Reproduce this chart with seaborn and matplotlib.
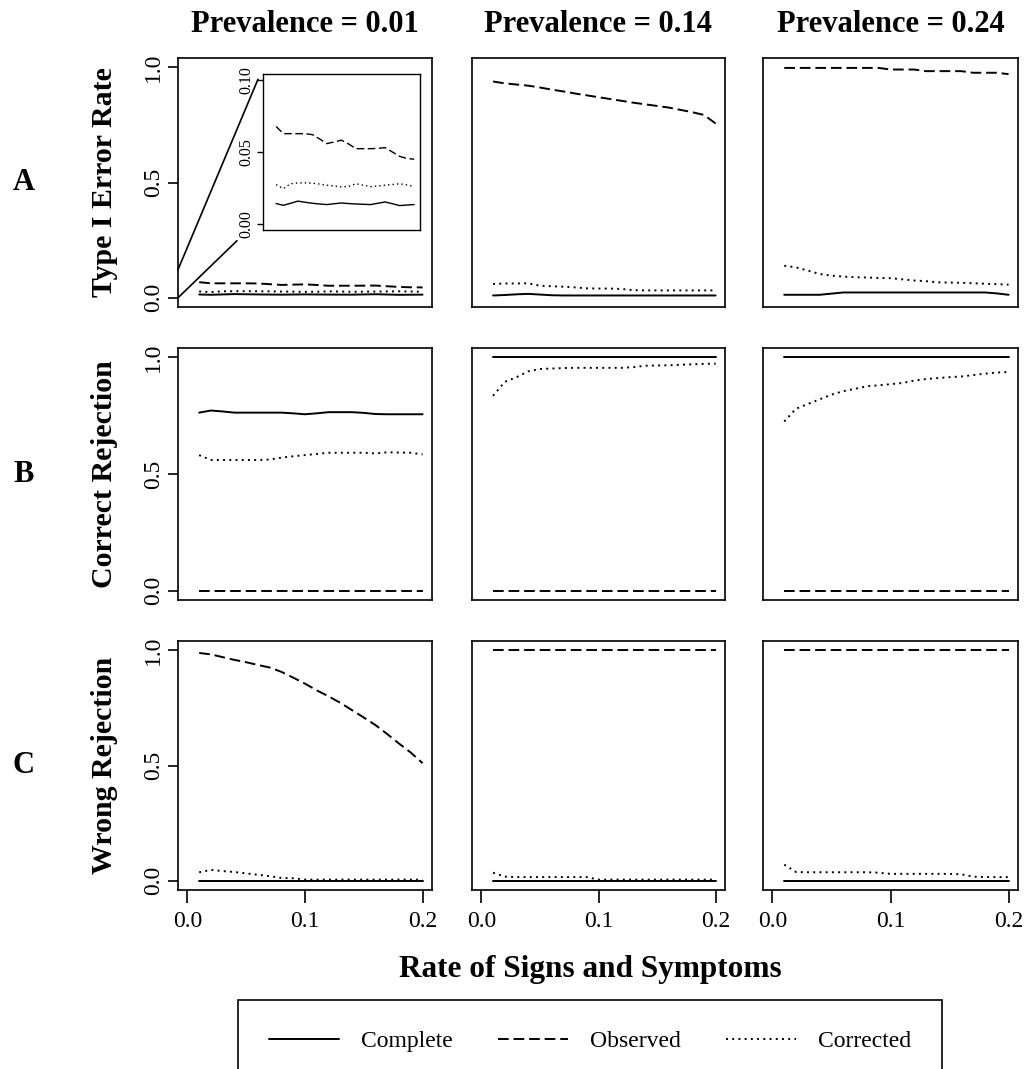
import matplotlib
matplotlib.use("Agg")
import matplotlib.pyplot as plt
import seaborn as sns
import pandas as pd
from matplotlib.patches import ConnectionPatch
from matplotlib.lines import Line2D

# ---------------- data ----------------
rate = [0.01, 0.02, 0.03, 0.04, 0.05, 0.06, 0.07, 0.08, 0.09, 0.10,
        0.11, 0.12, 0.13, 0.14, 0.15, 0.16, 0.17, 0.18, 0.19, 0.20]

prevalences = ["0.01", "0.14", "0.24"]
methods = ["Complete", "Observed", "Corrected"]
metrics = ["Type I Error Rate", "Correct Rejection", "Wrong Rejection"]
row_letters = ["A", "B", "C"]

# Type I error rate
type1_p01_complete = [0.0143, 0.0131, 0.0145, 0.0160, 0.0152, 0.0145, 0.0140, 0.0136, 0.0142, 0.0147,
                      0.0143, 0.0140, 0.0138, 0.0136, 0.0145, 0.0154, 0.0142, 0.0129, 0.0133, 0.0136]
type1_p01_observed = [0.0677, 0.0627, 0.0627, 0.0627, 0.0627, 0.0620, 0.0590, 0.0558, 0.0570, 0.0582,
                      0.0555, 0.0523, 0.0523, 0.0523, 0.0525, 0.0530, 0.0500, 0.0470, 0.0455, 0.0450]
type1_p01_corrected = [0.0274, 0.0247, 0.0280, 0.0286, 0.0286, 0.0284, 0.0278, 0.0270, 0.0265, 0.0258,
                       0.0262, 0.0280, 0.0270, 0.0260, 0.0265, 0.0270, 0.0275, 0.0280, 0.0272, 0.0260]
type1_p14_complete = [0.010, 0.012, 0.015, 0.017, 0.014, 0.011, 0.010, 0.010, 0.010, 0.010,
                      0.010, 0.010, 0.010, 0.010, 0.010, 0.010, 0.010, 0.010, 0.010, 0.010]
type1_p14_observed = [0.938, 0.930, 0.925, 0.920, 0.912, 0.903, 0.895, 0.886, 0.878, 0.870,
                      0.862, 0.854, 0.846, 0.839, 0.832, 0.825, 0.815, 0.805, 0.793, 0.756]
type1_p14_corrected = [0.060, 0.062, 0.062, 0.063, 0.052, 0.050, 0.048, 0.045, 0.041, 0.040,
                       0.040, 0.038, 0.033, 0.032, 0.032, 0.032, 0.032, 0.032, 0.032, 0.032]
type1_p24_complete = [0.013, 0.013, 0.013, 0.013, 0.018, 0.023, 0.023, 0.023, 0.023, 0.023,
                      0.023, 0.023, 0.023, 0.023, 0.023, 0.023, 0.023, 0.023, 0.019, 0.013]
type1_p24_observed = [0.997, 0.997, 0.997, 0.997, 0.997, 0.997, 0.997, 0.997, 0.997, 0.990,
                      0.990, 0.990, 0.983, 0.983, 0.983, 0.983, 0.976, 0.976, 0.976, 0.970]
type1_p24_corrected = [0.139, 0.132, 0.118, 0.103, 0.096, 0.092, 0.089, 0.088, 0.086, 0.085,
                       0.080, 0.075, 0.072, 0.067, 0.066, 0.065, 0.063, 0.061, 0.059, 0.057]

# Correct rejection
correct_p01_complete = [0.763, 0.772, 0.768, 0.763, 0.763, 0.763, 0.763, 0.763, 0.760, 0.756,
                        0.760, 0.765, 0.765, 0.765, 0.762, 0.757, 0.756, 0.756, 0.756, 0.756]
correct_p01_observed = [0.0, 0.0, 0.0, 0.0, 0.0, 0.0, 0.0, 0.0, 0.0, 0.0,
                        0.0, 0.0, 0.0, 0.0, 0.0, 0.0, 0.0, 0.0, 0.0, 0.0]
correct_p01_corrected = [0.581, 0.560, 0.560, 0.560, 0.560, 0.560, 0.562, 0.570, 0.576, 0.581,
                         0.586, 0.591, 0.591, 0.591, 0.591, 0.588, 0.593, 0.592, 0.591, 0.584]
correct_p14_complete = [1.0, 1.0, 1.0, 1.0, 1.0, 1.0, 1.0, 1.0, 1.0, 1.0,
                        1.0, 1.0, 1.0, 1.0, 1.0, 1.0, 1.0, 1.0, 1.0, 1.0]
correct_p14_observed = [0.0, 0.0, 0.0, 0.0, 0.0, 0.0, 0.0, 0.0, 0.0, 0.0,
                        0.0, 0.0, 0.0, 0.0, 0.0, 0.0, 0.0, 0.0, 0.0, 0.0]
correct_p14_corrected = [0.835, 0.895, 0.915, 0.940, 0.950, 0.952, 0.954, 0.955, 0.955, 0.955,
                         0.955, 0.955, 0.958, 0.964, 0.965, 0.966, 0.968, 0.970, 0.972, 0.973]
correct_p24_complete = [1.0, 1.0, 1.0, 1.0, 1.0, 1.0, 1.0, 1.0, 1.0, 1.0,
                        1.0, 1.0, 1.0, 1.0, 1.0, 1.0, 1.0, 1.0, 1.0, 1.0]
correct_p24_observed = [0.0, 0.0, 0.0, 0.0, 0.0, 0.0, 0.0, 0.0, 0.0, 0.0,
                        0.0, 0.0, 0.0, 0.0, 0.0, 0.0, 0.0, 0.0, 0.0, 0.0]
correct_p24_corrected = [0.725, 0.780, 0.800, 0.820, 0.840, 0.855, 0.865, 0.876, 0.880, 0.885,
                         0.890, 0.900, 0.907, 0.911, 0.915, 0.918, 0.924, 0.930, 0.935, 0.937]

# Wrong rejection
wrong_p01_complete = [0.0, 0.0, 0.0, 0.0, 0.0, 0.0, 0.0, 0.0, 0.0, 0.0,
                      0.0, 0.0, 0.0, 0.0, 0.0, 0.0, 0.0, 0.0, 0.0, 0.0]
wrong_p01_observed = [0.988, 0.982, 0.970, 0.958, 0.948, 0.936, 0.925, 0.906, 0.881, 0.855,
                      0.826, 0.800, 0.772, 0.740, 0.708, 0.675, 0.636, 0.595, 0.556, 0.510]
wrong_p01_corrected = [0.037, 0.047, 0.042, 0.038, 0.032, 0.026, 0.020, 0.012, 0.011, 0.005,
                       0.005, 0.005, 0.005, 0.005, 0.005, 0.005, 0.005, 0.005, 0.005, 0.005]
wrong_p14_complete = [0.0, 0.0, 0.0, 0.0, 0.0, 0.0, 0.0, 0.0, 0.0, 0.0,
                      0.0, 0.0, 0.0, 0.0, 0.0, 0.0, 0.0, 0.0, 0.0, 0.0]
wrong_p14_observed = [1.0, 1.0, 1.0, 1.0, 1.0, 1.0, 1.0, 1.0, 1.0, 1.0,
                      1.0, 1.0, 1.0, 1.0, 1.0, 1.0, 1.0, 1.0, 1.0, 1.0]
wrong_p14_corrected = [0.035, 0.018, 0.016, 0.016, 0.016, 0.016, 0.016, 0.016, 0.016, 0.005,
                       0.005, 0.005, 0.005, 0.005, 0.005, 0.005, 0.005, 0.005, 0.005, 0.005]
wrong_p24_complete = [0.0, 0.0, 0.0, 0.0, 0.0, 0.0, 0.0, 0.0, 0.0, 0.0,
                      0.0, 0.0, 0.0, 0.0, 0.0, 0.0, 0.0, 0.0, 0.0, 0.0]
wrong_p24_observed = [1.0, 1.0, 1.0, 1.0, 1.0, 1.0, 1.0, 1.0, 1.0, 1.0,
                      1.0, 1.0, 1.0, 1.0, 1.0, 1.0, 1.0, 1.0, 1.0, 1.0]
wrong_p24_corrected = [0.070, 0.038, 0.037, 0.037, 0.037, 0.037, 0.037, 0.037, 0.035, 0.030,
                       0.030, 0.030, 0.030, 0.030, 0.030, 0.028, 0.018, 0.016, 0.016, 0.016]

x_ticks = [0.0, 0.1, 0.2]
x_ticklabels = ["0.0", "0.1", "0.2"]
y_ticks = [0.0, 0.5, 1.0]
y_ticklabels = ["0.0", "0.5", "1.0"]
inset_ticks = [0.0, 0.05, 0.10]
inset_ticklabels = ["0.00", "0.05", "0.10"]

grid = [
    [(type1_p01_complete, type1_p01_observed, type1_p01_corrected),
     (type1_p14_complete, type1_p14_observed, type1_p14_corrected),
     (type1_p24_complete, type1_p24_observed, type1_p24_corrected)],
    [(correct_p01_complete, correct_p01_observed, correct_p01_corrected),
     (correct_p14_complete, correct_p14_observed, correct_p14_corrected),
     (correct_p24_complete, correct_p24_observed, correct_p24_corrected)],
    [(wrong_p01_complete, wrong_p01_observed, wrong_p01_corrected),
     (wrong_p14_complete, wrong_p14_observed, wrong_p14_corrected),
     (wrong_p24_complete, wrong_p24_observed, wrong_p24_corrected)],
]

# ---------------- style ----------------
sns.set_style("white")
plt.rcParams["font.family"] = ["Liberation Serif", "DejaVu Serif"]
plt.rcParams["text.color"] = "black"
plt.rcParams["axes.labelcolor"] = "black"
plt.rcParams["xtick.color"] = "black"
plt.rcParams["ytick.color"] = "black"
plt.rcParams["axes.edgecolor"] = "black"

line_styles = {"Complete": "-", "Observed": (0, (5.5, 2.5)), "Corrected": (0, (1, 2.2))}
LW = 1.4

W, H = 1028, 1069
fig = plt.figure(figsize=(W / 100, H / 100), dpi=100)

col_px = [(178, 432), (472, 725), (763, 1018)]
row_px = [(58, 307), (348, 600), (641, 890)]


def px_axes(l, r, t, b):
    return fig.add_axes([l / W, 1 - b / H, (r - l) / W, (b - t) / H])


def draw_series(ax, series, lw):
    for m, vals in zip(methods, series):
        df = pd.DataFrame({"rate": rate, "value": vals})
        sns.lineplot(data=df, x="rate", y="value", ax=ax, color="black",
                     linestyle=line_styles[m], linewidth=lw,
                     estimator=None, errorbar=None)
    ax.set_xlabel("")
    ax.set_ylabel("")


axes = {}
for i, (t, b) in enumerate(row_px):
    for j, (l, r) in enumerate(col_px):
        ax = px_axes(l, r, t, b)
        axes[(i, j)] = ax
        draw_series(ax, grid[i][j], LW)
        ax.set_xlim(-0.008, 0.208)
        ax.set_ylim(-0.04, 1.04)
        for s in ax.spines.values():
            s.set_visible(True)
            s.set_color("black")
            s.set_linewidth(1.2)
        if j == 0:
            ax.set_yticks(y_ticks)
            ax.set_yticklabels(y_ticklabels, rotation=90, va="center")
            ax.tick_params(axis="y", left=True, length=7, width=1.2,
                           direction="out", labelsize=17, pad=3, colors="black")
        else:
            ax.set_yticks([])
        if i == 2:
            ax.set_xticks(x_ticks)
            ax.set_xticklabels(x_ticklabels)
            ax.tick_params(axis="x", bottom=True, length=9, width=1.2,
                           direction="out", labelsize=17, pad=6, colors="black")
        else:
            ax.set_xticks([])
        if i == 0:
            ax.set_title(f"Prevalence = {prevalences[j]}", fontsize=22,
                         fontweight="bold", pad=19, color="black")

# row letters and y labels
for i, (t, b) in enumerate(row_px):
    yc = 1 - (t + b) / 2 / H
    fig.text(24 / W, yc, row_letters[i], fontsize=22, fontweight="bold",
             ha="center", va="center", color="black")
    fig.text(104 / W, yc, metrics[i], fontsize=21.5, fontweight="bold",
             rotation=90, ha="center", va="center", color="black")

# x label
fig.text(590 / W, 1 - 970 / H, "Rate of Signs and Symptoms", fontsize=22.5,
         fontweight="bold", ha="center", va="center", color="black")

# inset in panel A / prevalence 0.01
ax0 = axes[(0, 0)]
ins = px_axes(263, 420, 74, 230)
draw_series(ins, grid[0][0], 1.0)
ins.set_xlim(-0.008, 0.208)
ins.set_ylim(-0.004, 0.104)
ins.set_xticks([])
ins.set_yticks(inset_ticks)
ins.set_yticklabels(inset_ticklabels, rotation=90, va="center")
ins.tick_params(axis="y", left=True, length=4, width=1.0, direction="out",
                labelsize=11.5, pad=2, colors="black")
for s in ins.spines.values():
    s.set_visible(True)
    s.set_color("black")
    s.set_linewidth(1.0)

for yA, xyB in [(0.122, (-0.032, 0.966)), (0.0, (-0.166, -0.069))]:
    con = ConnectionPatch(xyA=(0.0, yA), coordsA=ax0.get_yaxis_transform(),
                          xyB=xyB, coordsB=ins.transAxes,
                          color="black", linewidth=1.2)
    fig.add_artist(con)

# legend
handles = [Line2D([0], [0], color="black", linestyle=line_styles[m], linewidth=LW)
           for m in methods]
leg = fig.legend(handles, methods, loc="upper center",
                 bbox_to_anchor=(590 / W, 1 - 1000 / H), ncol=3, frameon=True,
                 fancybox=False, edgecolor="black", framealpha=1, fontsize=17,
                 handlelength=2.97, handletextpad=0.93, columnspacing=1.9,
                 borderpad=1.3, borderaxespad=0)
leg.get_frame().set_linewidth(1.2)
for txt in leg.get_texts():
    txt.set_color("black")

fig.savefig("out.png", dpi=100)
